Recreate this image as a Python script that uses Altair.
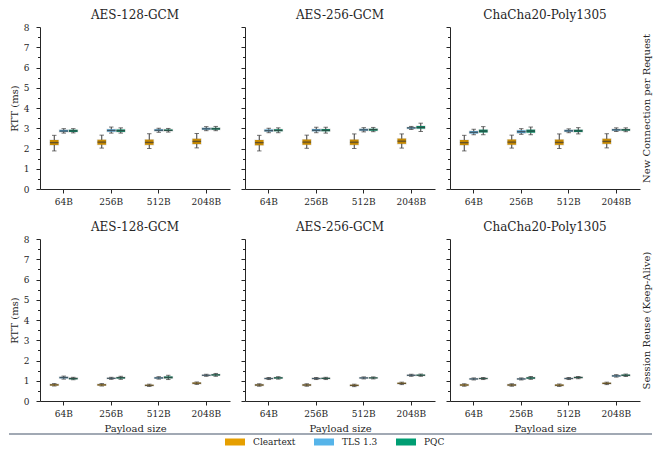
import altair as alt
import pandas as pd

MODES = ["New Connection per Request", "Session Reuse (Keep-Alive)"]
CIPHERS = ["AES-128-GCM", "AES-256-GCM", "ChaCha20-Poly1305"]
PAYLOADS = ["64B", "256B", "512B", "2048B"]
PROTOCOLS = ["Cleartext", "TLS 1.3", "PQC"]
COLORS = ["#E69F00", "#56B4E9", "#009E73"]
Y_TICKS = [0, 0.5, 1, 1.5, 2, 2.5, 3, 3.5, 4, 4.5, 5, 5.5, 6, 6.5, 7, 7.5, 8]

# (whisker low, q1, median, q3, whisker high); payload-major, protocol order inside
NEW_AES128 = [
    (1.88, 2.17, 2.29, 2.42, 2.65), (2.76, 2.82, 2.86, 2.92, 2.98), (2.77, 2.82, 2.87, 2.92, 2.98),
    (2.02, 2.19, 2.31, 2.43, 2.66), (2.76, 2.83, 2.89, 2.95, 3.06), (2.76, 2.82, 2.88, 2.94, 3.02),
    (2.00, 2.18, 2.30, 2.44, 2.73), (2.80, 2.86, 2.90, 2.95, 3.00), (2.81, 2.86, 2.90, 2.94, 2.99),
    (2.03, 2.22, 2.35, 2.48, 2.74), (2.88, 2.93, 2.97, 3.02, 3.08), (2.88, 2.93, 2.97, 3.02, 3.09),
]
NEW_AES256 = [
    (1.88, 2.16, 2.29, 2.42, 2.65), (2.78, 2.84, 2.88, 2.94, 3.00), (2.78, 2.85, 2.90, 2.95, 3.02),
    (2.01, 2.19, 2.31, 2.44, 2.66), (2.78, 2.85, 2.90, 2.96, 3.05), (2.76, 2.85, 2.90, 2.96, 3.05),
    (2.00, 2.18, 2.31, 2.44, 2.72), (2.82, 2.88, 2.92, 2.97, 3.03), (2.83, 2.88, 2.93, 2.98, 3.04),
    (2.02, 2.23, 2.36, 2.49, 2.72), (2.94, 2.98, 3.02, 3.05, 3.09), (2.84, 2.98, 3.04, 3.11, 3.25),
]
NEW_CHACHA = [
    (1.88, 2.17, 2.29, 2.42, 2.65), (2.68, 2.74, 2.80, 2.86, 2.95), (2.68, 2.79, 2.86, 2.93, 3.08),
    (2.02, 2.19, 2.31, 2.44, 2.66), (2.70, 2.76, 2.83, 2.90, 2.98), (2.68, 2.78, 2.86, 2.93, 3.06),
    (2.00, 2.18, 2.30, 2.44, 2.72), (2.78, 2.83, 2.87, 2.92, 2.97), (2.72, 2.81, 2.87, 2.93, 3.03),
    (2.03, 2.23, 2.35, 2.48, 2.73), (2.84, 2.88, 2.92, 2.96, 3.02), (2.83, 2.88, 2.92, 2.96, 3.02),
]
REUSE_AES128 = [
    (0.74, 0.77, 0.80, 0.83, 0.86), (1.08, 1.12, 1.16, 1.19, 1.23), (1.05, 1.08, 1.11, 1.14, 1.17),
    (0.74, 0.77, 0.80, 0.83, 0.86), (1.07, 1.10, 1.12, 1.14, 1.17), (1.07, 1.11, 1.15, 1.18, 1.22),
    (0.72, 0.75, 0.77, 0.80, 0.83), (1.08, 1.11, 1.14, 1.17, 1.20), (1.06, 1.12, 1.16, 1.21, 1.27),
    (0.82, 0.85, 0.88, 0.91, 0.94), (1.22, 1.25, 1.27, 1.29, 1.32), (1.22, 1.26, 1.29, 1.32, 1.36),
]
REUSE_AES256 = [
    (0.73, 0.76, 0.79, 0.82, 0.85), (1.06, 1.09, 1.11, 1.13, 1.16), (1.08, 1.11, 1.14, 1.17, 1.20),
    (0.73, 0.76, 0.79, 0.82, 0.85), (1.06, 1.09, 1.11, 1.13, 1.16), (1.06, 1.09, 1.12, 1.14, 1.17),
    (0.71, 0.74, 0.77, 0.80, 0.83), (1.09, 1.12, 1.14, 1.16, 1.19), (1.09, 1.12, 1.14, 1.16, 1.19),
    (0.81, 0.84, 0.87, 0.90, 0.93), (1.22, 1.25, 1.27, 1.29, 1.32), (1.22, 1.25, 1.27, 1.30, 1.33),
]
REUSE_CHACHA = [
    (0.73, 0.76, 0.79, 0.82, 0.85), (1.04, 1.07, 1.09, 1.11, 1.14), (1.06, 1.09, 1.11, 1.13, 1.16),
    (0.73, 0.76, 0.79, 0.82, 0.85), (1.04, 1.07, 1.09, 1.11, 1.14), (1.07, 1.10, 1.14, 1.17, 1.21),
    (0.72, 0.75, 0.78, 0.81, 0.84), (1.06, 1.09, 1.11, 1.13, 1.16), (1.10, 1.13, 1.16, 1.18, 1.21),
    (0.81, 0.84, 0.87, 0.90, 0.93), (1.18, 1.21, 1.24, 1.27, 1.30), (1.21, 1.24, 1.27, 1.30, 1.33),
]

STATS = {
    (MODES[0], CIPHERS[0]): NEW_AES128,
    (MODES[0], CIPHERS[1]): NEW_AES256,
    (MODES[0], CIPHERS[2]): NEW_CHACHA,
    (MODES[1], CIPHERS[0]): REUSE_AES128,
    (MODES[1], CIPHERS[1]): REUSE_AES256,
    (MODES[1], CIPHERS[2]): REUSE_CHACHA,
}

rows = []
for (mode, cipher), stats in STATS.items():
    for i, s in enumerate(stats):
        rows.append(dict(mode=mode, cipher=cipher,
                         payload=PAYLOADS[i // 3], protocol=PROTOCOLS[i % 3],
                         lo=s[0], q1=s[1], med=s[2], q3=s[3], hi=s[4]))
df = pd.DataFrame(rows)

FONT = "DejaVu Serif"
EDGE = "#3a3a3a"
AXC = "#262626"
W, H = 190, 162


def panel(mode, cipher, col, bottom):
    d = df[(df["mode"] == mode) & (df["cipher"] == cipher)]
    base = alt.Chart(d)
    xaxis = alt.Axis(title="Payload size" if bottom else None, labelAngle=0,
                     tickSize=4, labelPadding=4, titlePadding=5)
    x = alt.X("payload:N", sort=PAYLOADS,
              scale=alt.Scale(domain=PAYLOADS, paddingInner=0.4, paddingOuter=0.2),
              axis=xaxis)
    xo = alt.XOffset("protocol:N", sort=PROTOCOLS,
                     scale=alt.Scale(domain=PROTOCOLS, paddingInner=0, paddingOuter=0))
    yaxis = alt.Axis(values=Y_TICKS, grid=False,
                     labelExpr="datum.value % 1 === 0 ? format(datum.value, 'd') : ''",
                     labels=(col == 0), title="RTT (ms)" if col == 0 else None,
                     tickSize={"condition": {"test": "datum.value % 1 === 0", "value": 4}, "value": 2.5},
                     labelPadding=7, titlePadding=4)
    ysc = alt.Scale(domain=[0, 8], nice=False, zero=True)

    def Y(f):
        return alt.Y(f, scale=ysc, axis=yaxis)

    whisk = base.mark_rule(color=EDGE, strokeWidth=1).encode(x=x, xOffset=xo, y=Y("lo:Q"), y2="hi:Q")
    cap_lo = base.mark_tick(color=EDGE, size=4.5, thickness=1).encode(x=x, xOffset=xo, y=Y("lo:Q"))
    cap_hi = base.mark_tick(color=EDGE, size=4.5, thickness=1).encode(x=x, xOffset=xo, y=Y("hi:Q"))
    box = base.mark_bar(size=8.6).encode(
        x=x, xOffset=xo, y=Y("q1:Q"), y2="q3:Q",
        color=alt.Color("protocol:N", sort=PROTOCOLS,
                        scale=alt.Scale(domain=PROTOCOLS, range=COLORS),
                        legend=alt.Legend(title=None, orient="none", legendX=190, legendY=410,
                                          direction="horizontal",
                                          symbolType="M-2,-0.7H2V0.7H-2Z",
                                          symbolSize=100, symbolStrokeWidth=0,
                                          labelFont=FONT, labelFontSize=9, labelColor=AXC,
                                          labelOffset=13, columnPadding=18)))
    shade = base.mark_bar(size=8.6, color="#000000", opacity=0.15, stroke=EDGE,
                          strokeOpacity=1, strokeWidth=1.2).encode(
        x=x, xOffset=xo, y=Y("q1:Q"), y2="q3:Q")
    med = base.mark_tick(color=EDGE, size=8.6, thickness=1.3).encode(x=x, xOffset=xo, y=Y("med:Q"))
    ch = alt.layer(whisk, cap_lo, cap_hi, box, shade, med)
    if col == 2:
        lab = base.mark_point(opacity=0).encode(
            y=alt.Y("med:Q", scale=alt.Scale(domain=[0, 8], nice=False),
                    axis=alt.Axis(orient="right", title=mode, labels=False, ticks=False,
                                  domain=False, grid=False, titleAngle=270, titleBaseline="top",
                                  titlePadding=1, titleFontSize=10)))
        ch = alt.layer(ch, lab).resolve_scale(y="independent")
    # the left panel's "8" label reaches above the plot; others need extra title offset to align
    off = 1 if col == 0 else 5
    return ch.properties(width=W, height=H,
                         title=alt.TitleParams(text=cipher, frame="group", offset=off))


row_charts = []
for r, mode in enumerate(MODES):
    row_charts.append(alt.hconcat(*[panel(mode, c, i, r == 1) for i, c in enumerate(CIPHERS)],
                                  spacing=10))

grid = alt.vconcat(*row_charts, spacing=14)

line = alt.Chart(pd.DataFrame({"k": [0]})).mark_rule(color="#44546a", strokeWidth=1.2).encode(
    x=alt.value(-31), x2=alt.value(612), y=alt.value(0)).properties(width=580, height=1)

chart = alt.vconcat(grid, line, spacing=0).properties(padding=0).configure(
    font=FONT
).configure_view(stroke=None).configure_axis(
    labelFont=FONT, titleFont=FONT, labelFontSize=9, titleFontSize=10,
    labelColor=AXC, titleColor=AXC, domainColor=AXC, tickColor=AXC,
    titleFontWeight="normal"
).configure_title(
    font=FONT, fontSize=12, fontWeight="normal", color=AXC
)

chart.save("out.html", embed_options={"renderer": "svg", "actions": False})
